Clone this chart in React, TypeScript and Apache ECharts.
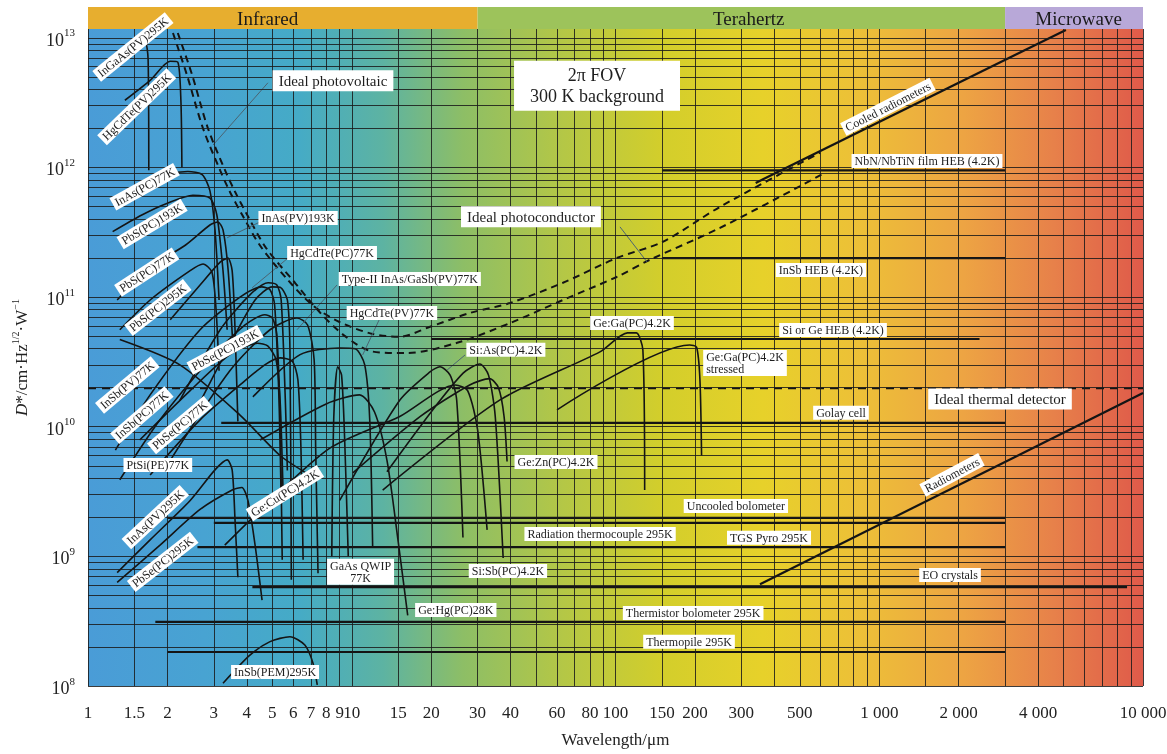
import React, { useEffect, useRef } from 'react';
import * as echarts from 'echarts';

const SERIF = '"Liberation Serif", "Times New Roman", "DejaVu Serif", serif';

const X_MIN = 1;
const X_MAX = 10000;
const Y_MIN = 1e8;
const Y_MAX = 1.17e13;

// x tick labels (wavelength, µm)
const xTickValues = [1, 1.5, 2, 3, 4, 5, 6, 7, 8, 9, 10, 15, 20, 30, 40, 60, 80, 100, 150, 200, 300, 500, 1000, 2000, 4000, 10000];
const xTickLabels = ['1', '1.5', '2', '3', '4', '5', '6', '7', '8', '9', '10', '15', '20', '30', '40', '60', '80', '100', '150', '200', '300', '500', '1 000', '2 000', '4 000', '10 000'];

// grid line positions
const gridDecadesX = [1, 10, 100, 1000];
const gridStepsX = [1, 1.5, 2, 3, 4, 5, 6, 7, 8, 9];
const gridDecadesY = [1e8, 1e9, 1e10, 1e11, 1e12];
const gridStepsY = [1, 2, 3, 4, 5, 6, 7, 8, 9];

// spectral bands
const bandNames = ['Infrared', 'Terahertz', 'Microwave'];
const bandStarts = [1, 30, 3000];
const bandEnds = [30, 3000, 10000];
const bandTextAt = [4.8, 320, 5700];

// ---- detector curves [wavelength µm, D*] ----
const inGaAsPV295 = [[1.045, 5.5e12], [1.27, 7.4e12], [1.5, 9.2e12], [1.64, 9.4e12], [1.69, 6.8e12], [1.7, 9.5e11]];
const hgCdTePV295 = [[1.38, 3.3e12], [1.72, 4.7e12], [2.05, 6.6e12], [2.19, 6.5e12], [2.25, 3.3e12], [2.27, 1.0e12]];
const inAsPC77 = [[1.24, 5.3e11], [1.6, 7.3e11], [2.0, 8.8e11], [2.39, 9.3e11], [2.71, 8.8e11], [2.9, 6.6e11], [3.03, 3.3e11], [3.14, 9.5e10]];
const pbSPC193 = [[1.24, 3.2e11], [1.6, 4.3e11], [2.0, 5.3e11], [2.5, 6.1e11], [2.9, 5.8e11], [3.08, 4.3e11], [3.25, 1.6e11], [3.37, 5.6e10]];
const pbSPC77 = [[1.29, 9.5e10], [1.72, 1.7e11], [2.33, 2.5e11], [2.9, 3.6e11], [3.11, 3.8e11], [3.25, 3.3e11], [3.4, 1.6e11], [3.55, 3.9e10]];
const pbSPC295 = [[1.32, 5.6e10], [1.72, 9.5e10], [2.44, 1.6e11], [2.73, 1.8e11], [2.95, 1.56e11], [3.06, 7.9e10], [3.14, 2.7e10]];
const inAsPV193 = [[2.05, 6.7e10], [2.66, 1.24e11], [3.17, 1.86e11], [3.39, 2.0e11], [3.52, 1.6e11], [3.61, 5.6e10], [3.7, 1.1e10]];
const hgCdTePC77 = [[2.23, 1.6e10], [3.17, 5.6e10], [4.11, 1.04e11], [4.82, 1.29e11], [5.2, 1.24e11], [5.4, 9.5e10], [5.6, 1.6e10], [5.7, 4.6e9]];
const typeIIPV77 = [[2.44, 1.1e10], [3.45, 4.3e10], [4.3, 9.5e10], [5.0, 1.2e11], [5.35, 1.19e11], [5.7, 9.5e10], [5.83, 3.9e10], [5.9, 6.6e8]];
const pbSePC193 = [[1.57, 7.9e9], [2.44, 1.9e10], [3.45, 3.6e10], [4.4, 4.4e10], [4.8, 4.2e10], [5.16, 3.3e10], [5.35, 1.6e10], [5.5, 2.7e9]];
const inSbPV77 = [[1.27, 6.6e9], [1.72, 1.76e10], [2.66, 5.6e10], [3.77, 1.0e11], [4.56, 1.2e11], [4.9, 1.14e11], [5.1, 8.7e10], [5.3, 1.6e10], [5.4, 2.7e9]];
const inSbPC77 = [[1.32, 3.9e9], [1.875, 1.13e10], [2.9, 3.3e10], [3.94, 6.1e10], [4.68, 7.3e10], [5.0, 6.9e10], [5.2, 5.1e10], [5.35, 1.13e10], [5.45, 9.4e8]];
const pbSePC77 = [[1.72, 4.25e9], [2.66, 1.13e10], [3.77, 2.1e10], [4.68, 3.0e10], [5.35, 3.4e10], [5.95, 3.2e10], [6.25, 2.3e10], [6.42, 6.6e9], [6.54, 9.4e8]];
const ptSiPE77 = [[1.32, 4.7e10], [2.23, 3.0e10], [3.77, 1.23e10], [5.35, 6.0e9], [7.1, 4.1e9]];
const extraIrCurve = [[2.05, 5.5e9], [3.45, 2.7e10], [4.9, 5.6e10], [6.2, 6.9e10], [6.8, 6.1e10], [7.2, 3.3e10], [7.3, 6.6e9], [7.45, 7.4e8]];
const inAsPV295 = [[1.29, 7.5e8], [1.72, 1.34e9], [2.44, 2.7e9], [3.03, 4.65e9], [3.37, 5.55e9], [3.52, 4.65e9], [3.61, 1.9e9], [3.7, 6.9e8]];
const pbSePC295 = [[1.29, 6.3e8], [1.875, 1.22e9], [2.66, 2.3e9], [3.52, 3.25e9], [3.83, 3.4e9], [4.04, 2.7e9], [4.3, 1.22e9], [4.57, 4.6e8]];
const inSbPEM295 = [[3.25, 1.05e8], [4.11, 1.73e8], [4.9, 2.2e8], [5.83, 2.4e8], [6.64, 2.07e8], [7.13, 1.5e8], [7.4, 1.02e8]];
const hgCdTePV77 = [[4.22, 1.7e10], [6.37, 3.6e10], [9.0, 4.05e10], [10.3, 4.0e10], [11.2, 3.0e10], [11.7, 1.13e10], [12.0, 1.2e9]];
const gaAsQWIP77 = [[8.4, 1.0e9], [8.55, 1.2e10], [8.85, 2.9e10], [9.15, 2.5e10], [9.4, 8.0e9], [9.7, 1.0e9]];
const geHgPC28 = [[4.49, 7.9e9], [8.0, 1.5e10], [10.7, 1.76e10], [12.2, 1.3e10], [13.6, 5.5e9], [15.0, 1.3e9], [16.3, 3.5e8]];
const geCuPC42 = [[3.3, 1.22e9], [8.05, 6.6e9], [15.2, 1.2e10], [24.7, 2.1e10], [27.5, 1.9e10], [30, 9.5e9], [32.6, 1.6e9]];
const siAsPC42 = [[9.0, 2.7e9], [15.2, 1.6e10], [19.8, 2.65e10], [21.6, 2.9e10], [23.6, 2.5e10], [25, 1.6e10], [26.4, 1.4e9]];
const siSbPC42 = [[13.6, 4.5e9], [20, 1.3e10], [26.5, 2.6e10], [30.6, 3.05e10], [33, 2.5e10], [35, 1.2e10], [37.5, 9.7e8]];
const geZnPC42 = [[10.1, 4.4e9], [18.2, 1.2e10], [28, 2.1e10], [33.3, 2.35e10], [36, 2.0e10], [37.8, 1.2e10], [38.8, 5.4e9]];
const geGaPC42 = [[13.1, 3.25e9], [36.5, 1.61e10], [87.3, 3.78e10], [111, 5.3e10], [120, 5.3e10], [127, 3.9e10], [129, 3.25e9]];
const geGaStressed = [[60, 1.35e10], [191, 4.27e10], [203, 4.1e10], [209, 2.3e10], [212, 6.0e9]];

// ---- flat / straight detector lines ----
const nbnHEB = [[150, 9.5e11], [3000, 9.5e11]];
const inSbHEB = [[150, 2.0e11], [3000, 2.0e11]];
const siGeHEB = [[20, 4.75e10], [2400, 4.75e10]];
const golayCell = [[3.2, 1.07e10], [3000, 1.07e10]];
const uncooledBolo = [[2.0, 1.98e9], [3000, 1.98e9]];
const radThermocouple = [[3.0, 1.81e9], [3000, 1.81e9]];
const tgsPyro = [[2.6, 1.18e9], [3000, 1.18e9]];
const eoCrystals = [[4.2, 5.8e8], [8700, 5.8e8]];
const thermistorBolo = [[1.8, 3.12e8], [3000, 3.12e8]];
const thermopile = [[2.0, 1.83e8], [3000, 1.83e8]];
const cooledRadiometers = [[340, 7.6e11], [5100, 1.15e13]];
const radiometers = [[353, 6.1e8], [10000, 1.82e10]];

// ---- ideal limits ----
const idealPV = [[2.1, 1.09e13], [2.37, 5.2e12], [2.73, 2.0e12], [3.17, 9.5e11], [3.45, 6.5e11], [3.87, 4.2e11], [4.49, 2.5e11], [5.68, 1.38e11], [7.13, 8.6e10], [9.02, 6.4e10], [12.0, 5.2e10], [15.2, 4.95e10], [19.8, 5.9e10], [28.1, 7.55e10], [39.8, 9.0e10], [63.2, 1.29e11], [101, 2.0e11], [151, 2.67e11], [249, 4.97e11], [596, 1.3e12]];
const idealPC = [[2.19, 1.09e13], [2.48, 5.2e12], [2.85, 2.0e12], [3.31, 9.5e11], [3.61, 6.5e11], [4.04, 4.2e11], [4.73, 2.4e11], [6.09, 1.29e11], [7.58, 7.6e10], [9.43, 5.0e10], [12.0, 3.8e10], [16.2, 3.7e10], [25.1, 4.44e10], [39.8, 6.3e10], [63.2, 9.5e10], [101, 1.43e11], [135, 1.94e11], [249, 3.42e11], [623, 9.1e11]];
const idealThermal = [[1, 1.98e10], [10000, 1.98e10]];

// ---- label pointer lines ----
const pointerIdealPV = [[4.81, 4.5e12], [2.98, 1.49e12]];
const pointerInAsPV193 = [[4.49, 3.8e11], [3.37, 2.87e11]];
const pointerHgCdTePC77 = [[5.73, 2.0e11], [4.19, 1.18e11]];
const pointerTypeII = [[8.79, 1.24e11], [6.2, 5.6e10]];
const pointerHgCdTePV77 = [[12.8, 6.9e10], [11.0, 3.58e10]];
const pointerSiAs = [[26.9, 3.58e10], [23.0, 2.74e10]];
const pointerIdealPC = [[104, 3.48e11], [131.6, 1.87e11]];

// ---- labels: text, anchor [wavelength, D*], rotation in degrees ----
const detectorLabels = [
  { text: 'InGaAs(PV)295K', at: [1.48, 8.5e12], rot: 39 },
  { text: 'HgCdTe(PV)295K', at: [1.53, 2.94e12], rot: 44 },
  { text: 'InAs(PC)77K', at: [1.64, 7.1e11], rot: 29 },
  { text: 'PbS(PC)193K', at: [1.75, 3.67e11], rot: 31 },
  { text: 'PbS(PC)77K', at: [1.67, 1.56e11], rot: 33 },
  { text: 'PbS(PC)295K', at: [1.84, 8.3e10], rot: 38 },
  { text: 'InSb(PV)77K', at: [1.41, 2.1e10], rot: 40 },
  { text: 'InSb(PC)77K', at: [1.6, 1.23e10], rot: 41 },
  { text: 'PbSe(PC)77K', at: [2.23, 1.03e10], rot: 40 },
  { text: 'PbSe(PC)193K', at: [3.31, 3.92e10], rot: 28 },
  { text: 'PtSi(PE)77K', at: [1.84, 5.07e9], rot: 0 },
  { text: 'InAs(PV)295K', at: [1.8, 2.01e9], rot: 43 },
  { text: 'PbSe(PC)295K', at: [1.92, 9.06e8], rot: 38 },
  { text: 'Ge:Cu(PC)4.2K', at: [5.58, 3.08e9], rot: 32 },
  { text: 'InSb(PEM)295K', at: [5.12, 1.28e8], rot: 0 },
  { text: 'GaAs QWIP\n77K', at: [10.8, 7.6e8], rot: 0 },
  { text: 'Ge:Hg(PC)28K', at: [24.8, 3.85e8], rot: 0 },
  { text: 'Si:Sb(PC)4.2K', at: [39.1, 7.7e8], rot: 0 },
  { text: 'Ge:Zn(PC)4.2K', at: [59.5, 5.35e9], rot: 0 },
  { text: 'Si:As(PC)4.2K', at: [38.4, 3.92e10], rot: 0 },
  { text: 'Ge:Ga(PC)4.2K', at: [115.5, 6.3e10], rot: 0 },
  { text: 'Ge:Ga(PC)4.2K\nstressed', at: [215, 3.1e10], rot: 0, left: true },
  { text: 'HgCdTe(PV)77K', at: [14.2, 7.55e10], rot: 0 },
  { text: 'Type-II InAs/GaSb(PV)77K', at: [16.6, 1.38e11], rot: 0 },
  { text: 'HgCdTe(PC)77K', at: [8.42, 2.19e11], rot: 0 },
  { text: 'InAs(PV)193K', at: [6.26, 4.08e11], rot: 0 },
  { text: 'Ideal photovoltaic', at: [8.49, 4.66e12], rot: 0, big: true },
  { text: 'Ideal photoconductor', at: [47.8, 4.16e11], rot: 0, big: true },
  { text: 'Cooled radiometers', at: [1079, 2.94e12], rot: 27 },
  { text: 'NbN/NbTiN film HEB (4.2K)', at: [1517, 1.12e12], rot: 0 },
  { text: 'InSb HEB (4.2K)', at: [601, 1.62e11], rot: 0 },
  { text: 'Si or Ge HEB (4.2K)', at: [668, 5.58e10], rot: 0 },
  { text: 'Ideal thermal detector', at: [2870, 1.64e10], rot: 0, big: true },
  { text: 'Golay cell', at: [716, 1.28e10], rot: 0 },
  { text: 'Radiometers', at: [1888, 4.25e9], rot: 28 },
  { text: 'Uncooled bolometer', at: [286, 2.45e9], rot: 0 },
  { text: 'Radiation thermocouple 295K', at: [87.4, 1.49e9], rot: 0 },
  { text: 'TGS Pyro 295K', at: [382, 1.39e9], rot: 0 },
  { text: 'EO crystals', at: [1855, 7.18e8], rot: 0 },
  { text: 'Thermistor bolometer 295K', at: [197, 3.66e8], rot: 0 },
  { text: 'Thermopile 295K', at: [190, 2.19e8], rot: 0 },
];
const fovLabel = { text: '2π FOV\n300 K background', at: [85.1, 4.27e12] };

const solidCurves = [
  inGaAsPV295, hgCdTePV295, inAsPC77, pbSPC193, pbSPC77, pbSPC295, inAsPV193, hgCdTePC77,
  typeIIPV77, pbSePC193, inSbPV77, inSbPC77, pbSePC77, ptSiPE77, extraIrCurve, inAsPV295,
  pbSePC295, inSbPEM295, hgCdTePV77, gaAsQWIP77, geHgPC28, geCuPC42, siAsPC42, siSbPC42,
  geZnPC42, geGaPC42, geGaStressed,
];
const straightLines = [
  nbnHEB, inSbHEB, siGeHEB, golayCell, uncooledBolo, radThermocouple, tgsPyro, eoCrystals,
  thermistorBolo, thermopile, cooledRadiometers, radiometers,
];
const idealLines = [idealPV, idealPC];
const pointerLines = [pointerIdealPV, pointerInAsPV193, pointerHgCdTePC77, pointerTypeII, pointerHgCdTePV77, pointerSiAs, pointerIdealPC];

const bandColors = ['#E7AE2F', '#9DC35B', '#B8A8D8'];

export default function App() {
  const ref = useRef<HTMLDivElement>(null);

  useEffect(() => {
    const chart = echarts.init(ref.current as HTMLDivElement, null, { renderer: 'svg' });

    const gridMarks: any[] = [];
    gridDecadesX.forEach((d) => gridStepsX.forEach((s) => gridMarks.push({ xAxis: d * s })));
    gridMarks.push({ xAxis: X_MAX });
    gridDecadesY.forEach((d) => gridStepsY.forEach((s) => gridMarks.push({ yAxis: d * s })));
    gridMarks.push({ yAxis: 1e13 });

    const bg = new echarts.graphic.LinearGradient(0, 0, 1, 0, [
      { offset: 0, color: '#4A9CD7' },
      { offset: 0.11, color: '#48A3D2' },
      { offset: 0.2, color: '#45ABC6' },
      { offset: 0.28, color: '#5DB3A2' },
      { offset: 0.355, color: '#8DBE66' },
      { offset: 0.45, color: '#B4C746' },
      { offset: 0.545, color: '#D3CE2B' },
      { offset: 0.64, color: '#E7D12A' },
      { offset: 0.735, color: '#EDBF38' },
      { offset: 0.83, color: '#EDA443' },
      { offset: 0.915, color: '#E7814A' },
      { offset: 1, color: '#DF5A4A' },
    ]);

    const series: any[] = [];
    series.push({
      type: 'line',
      data: [[X_MIN, Y_MIN]],
      symbol: 'none',
      lineStyle: { width: 0 },
      silent: true,
      z: 1,
      markLine: {
        silent: true,
        symbol: ['none', 'none'],
        label: { show: false },
        lineStyle: { color: '#1a1a1a', width: 1, type: 'solid', opacity: 0.85 },
        data: gridMarks,
      },
    });
    solidCurves.forEach((d) =>
      series.push({ type: 'line', data: d, symbol: 'none', smooth: 0.25, silent: true, z: 3, lineStyle: { color: '#141414', width: 1.6 } })
    );
    straightLines.forEach((d) =>
      series.push({ type: 'line', data: d, symbol: 'none', silent: true, z: 3, lineStyle: { color: '#141414', width: 2.2 } })
    );
    idealLines.forEach((d) =>
      series.push({ type: 'line', data: d, symbol: 'none', smooth: 0.3, silent: true, z: 3, lineStyle: { color: '#141414', width: 2, type: [7, 5] } })
    );
    series.push({ type: 'line', data: idealThermal, symbol: 'none', silent: true, z: 3, lineStyle: { color: '#141414', width: 1.8, type: [8, 6] } });
    pointerLines.forEach((d) =>
      series.push({ type: 'line', data: d, symbol: 'none', silent: true, z: 4, lineStyle: { color: '#4b6472', width: 1 } })
    );

    chart.setOption({
      animation: false,
      grid: {
        left: 88, right: 24, top: 29, bottom: 68, show: true, backgroundColor: bg, borderWidth: 0,
        containLabel: false, outerBoundsMode: 'none',
      },
      xAxis: {
        type: 'log', logBase: 10, min: X_MIN, max: X_MAX,
        axisLabel: { show: false }, axisTick: { show: false }, axisLine: { show: false }, splitLine: { show: false },
        name: 'Wavelength/μm', nameLocation: 'middle', nameGap: 45,
        nameTextStyle: { fontFamily: SERIF, fontSize: 17, color: '#222' },
      },
      yAxis: {
        type: 'log', logBase: 10, min: Y_MIN, max: Y_MAX,
        axisTick: { show: false }, axisLine: { show: false }, splitLine: { show: false },
        axisLabel: {
          margin: 13,
          showMaxLabel: true,
          formatter: (v: number) => {
            const l = Math.log10(v);
            const e = Math.round(l);
            if (Math.abs(l - e) > 0.01) return '';
            return `{b|10}{s|${e}}`;
          },
          rich: {
            b: { fontFamily: SERIF, fontSize: 18, color: '#222', lineHeight: 22, verticalAlign: 'bottom' },
            s: { fontFamily: SERIF, fontSize: 11, color: '#222', lineHeight: 12, verticalAlign: 'top' },
          },
        },
        name: '{i|D}{n|*/cm·Hz}{s|1/2}{n|·W}{s|−1}',
        nameLocation: 'middle', nameRotate: 90, nameGap: 58,
        nameTextStyle: {
          rich: {
            i: { fontFamily: SERIF, fontSize: 17, fontStyle: 'italic', color: '#222', lineHeight: 20, verticalAlign: 'bottom' },
            n: { fontFamily: SERIF, fontSize: 17, color: '#222', lineHeight: 20, verticalAlign: 'bottom' },
            s: { fontFamily: SERIF, fontSize: 10, color: '#222', lineHeight: 11, verticalAlign: 'top' },
          },
        },
      },
      series,
    });

    const toPx = (p: number[]) => chart.convertToPixel({ gridIndex: 0 }, p) as number[];
    const top = chart.convertToPixel({ yAxisIndex: 0 }, Y_MAX) as number;
    const bottom = chart.convertToPixel({ yAxisIndex: 0 }, Y_MIN) as number;
    const xp = (v: number) => chart.convertToPixel({ xAxisIndex: 0 }, v) as number;

    const graphics: any[] = [];
    bandNames.forEach((name, i) => {
      const x0 = xp(bandStarts[i]);
      const x1 = xp(bandEnds[i]);
      graphics.push({ type: 'rect', shape: { x: x0, y: top - 22, width: x1 - x0, height: 22 }, style: { fill: bandColors[i] }, z: 10 });
      graphics.push({
        type: 'text', x: xp(bandTextAt[i]), y: top - 11, z: 11,
        style: { text: name, fill: '#1a1a1a', fontFamily: SERIF, fontSize: 19, align: 'center', verticalAlign: 'middle' },
      });
    });
    xTickValues.forEach((v, i) => {
      graphics.push({
        type: 'text', x: xp(v), y: bottom + 26, z: 11,
        style: { text: xTickLabels[i], fill: '#222', fontFamily: SERIF, fontSize: 17, align: 'center', verticalAlign: 'middle' },
      });
    });
    detectorLabels.forEach((l: any) => {
      const [x, y] = toPx(l.at);
      graphics.push({
        type: 'text', x, y, rotation: (l.rot * Math.PI) / 180, z: 20,
        style: {
          text: l.text, fill: '#1e1e1e', fontFamily: SERIF, fontSize: l.big ? 15 : 12,
          lineHeight: l.big ? 17 : 12,
          align: l.left ? 'left' : 'center', verticalAlign: 'middle',
          backgroundColor: '#ffffff', padding: l.big ? [2, 6] : [1, 3],
        },
      });
    });
    {
      const [x, y] = toPx(fovLabel.at);
      graphics.push({
        type: 'text', x, y, z: 20,
        style: {
          text: fovLabel.text, fill: '#1e1e1e', fontFamily: SERIF, fontSize: 18, lineHeight: 21,
          align: 'center', verticalAlign: 'middle', backgroundColor: '#ffffff', padding: [4, 16],
        },
      });
    }
    chart.setOption({ graphic: graphics });

    return () => chart.dispose();
  }, []);

  return <div ref={ref} style={{ position: 'fixed', left: 0, top: 0, width: 1167, height: 754 }} />;
}
